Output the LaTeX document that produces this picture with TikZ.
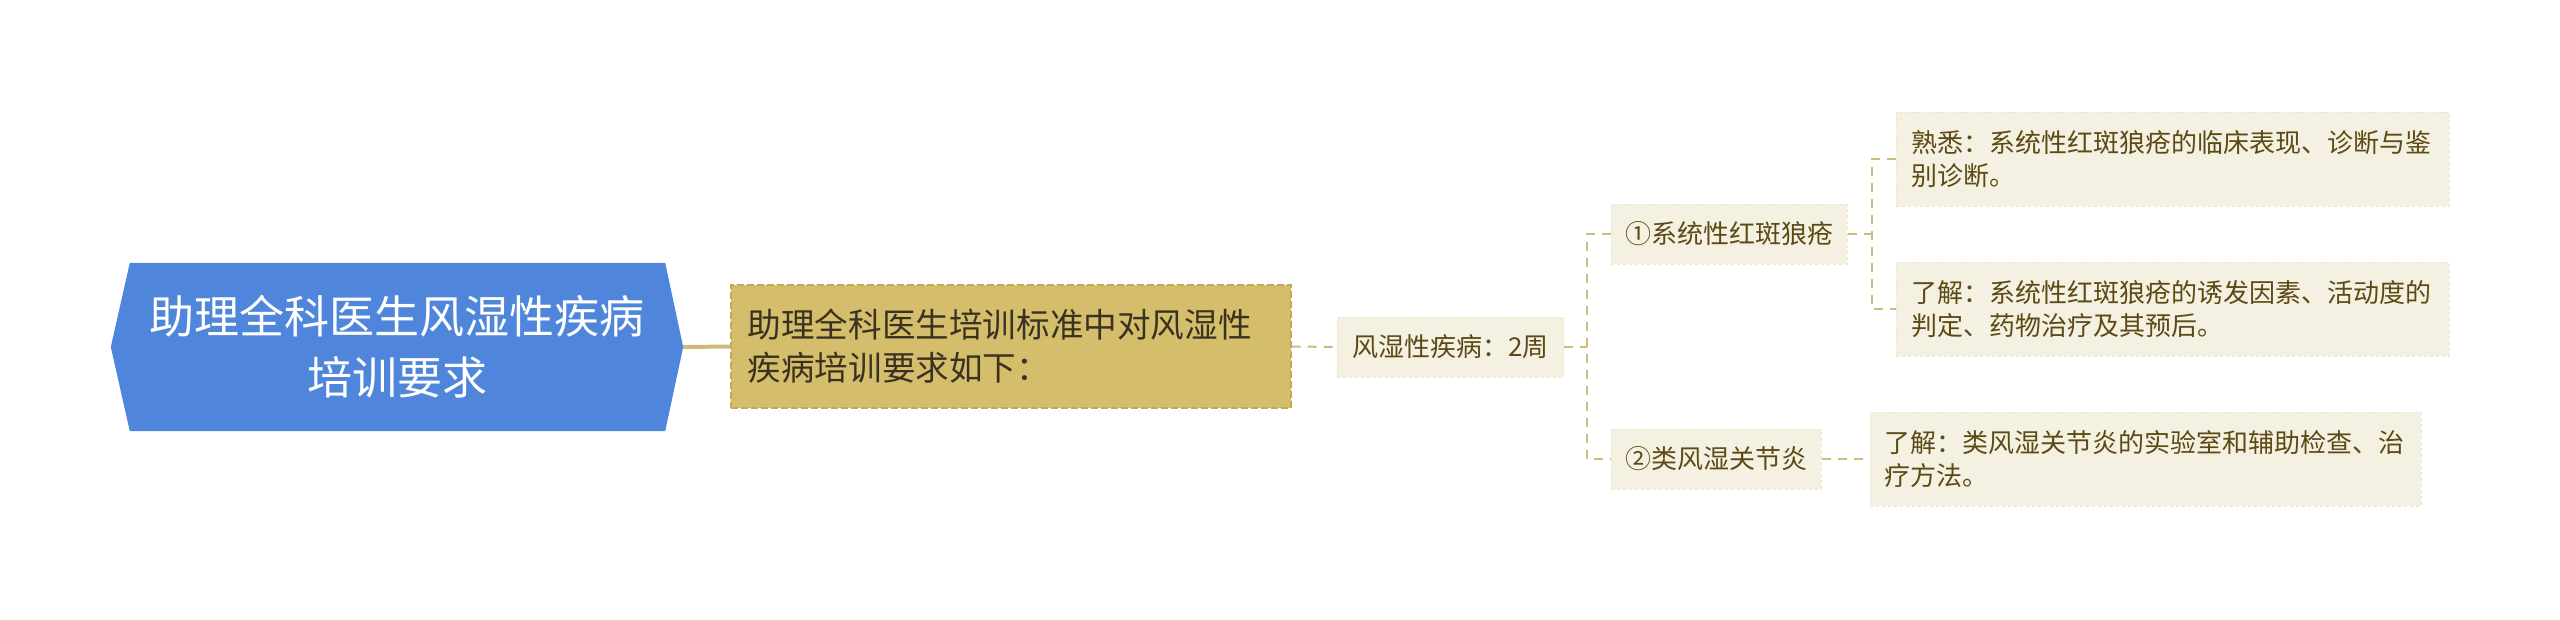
\documentclass[tikz,border=0pt]{standalone}
\usepackage{fontspec}
\setmainfont{Noto Sans CJK SC}
\usetikzlibrary{backgrounds}
\definecolor{rootblue}{HTML}{4F86DB}
\definecolor{tanfill}{HTML}{D4BD6B}
\definecolor{tanborder}{HTML}{C2A857}
\definecolor{lightfill}{HTML}{F5F1E2}
\definecolor{lightborder}{HTML}{ECE6CD}
\definecolor{browntext}{HTML}{5C4A14}
\definecolor{darktext}{HTML}{3A3220}
\definecolor{linecol}{HTML}{CDBB7A}
\begin{document}
\begin{tikzpicture}[x=1pt,y=-1pt,
  rootbox/.style={text=white, font=\fontsize{45}{61}\selectfont, align=center,
    minimum width=572pt, minimum height=168pt, inner sep=0pt},
  mainbox/.style={fill=tanfill, draw=tanborder, dash pattern=on 7pt off 3pt, line width=1.5pt, text=darktext,
    font=\fontsize{33.6}{43}\selectfont, text width=526pt, align=left,
    inner xsep=17pt, inner ysep=0pt, minimum height=123pt, anchor=west},
  subbox/.style={fill=lightfill, draw=lightborder, dashed, line width=0.8pt, text=browntext,
    font=\fontsize{26}{33}\selectfont, inner xsep=14pt, inner ysep=0pt,
    minimum height=60pt, anchor=west},
  leafbox/.style={fill=lightfill, draw=lightborder, dashed, line width=0.8pt, text=browntext,
    font=\fontsize{26}{33}\selectfont, text width=523pt, align=left,
    inner xsep=15pt, inner ysep=0pt, minimum height=94pt, anchor=west},
  solidlink/.style={draw=linecol, line width=4pt},
  link/.style={draw=linecol, line width=2pt, dash pattern=on 9pt off 7pt}
]
\useasboundingbox (0,0) rectangle (2560,619);

\node[rootbox] (root) at (397,347) {助理全科医生风湿性疾病\\培训要求};
\begin{scope}[on background layer]
\fill[rootblue] (root.west) -- ([xshift=19pt]root.north west) -- ([xshift=-18pt]root.north east)
  -- (root.east) -- ([xshift=-18pt]root.south east) -- ([xshift=19pt]root.south west) -- cycle;
\end{scope}
\coordinate (rootE) at (root.east);

\node[mainbox] (main) at (730,346.5) {助理全科医生培训标准中对风湿性\\疾病培训要求如下：};
\node[subbox, inner xsep=15pt] (n3) at (1337,347) {风湿性疾病：2周};
\node[subbox] (s1) at (1611,234) {①系统性红斑狼疮};
\node[subbox] (s2) at (1611,459) {②类风湿关节炎};
\node[leafbox] (l1) at (1896,159) {熟悉：系统性红斑狼疮的临床表现、诊断与鉴\\别诊断。};
\node[leafbox] (l2) at (1896,309) {了解：系统性红斑狼疮的诱发因素、活动度的\\判定、药物治疗及其预后。};
\node[leafbox, inner xsep=14pt] (l3) at (1870,459) {了解：类风湿关节炎的实验室和辅助检查、治\\疗方法。};

\coordinate (j1) at (1587,347);
\coordinate (j2) at (1872,234);

\begin{scope}[on background layer]
\draw[solidlink] (rootE) -- (main.west);
\draw[link] (main.east) -- (n3.west);
\draw[link] (n3.east) -- (j1);
\draw[link] (s1.west) -| (j1) |- (s2.west);
\draw[link] (s1.east) -- (j2);
\draw[link] (l1.west) -| (j2) |- (l2.west);
\draw[link] (s2.east) -- (l3.west);
\end{scope}
\end{tikzpicture}
\end{document}
